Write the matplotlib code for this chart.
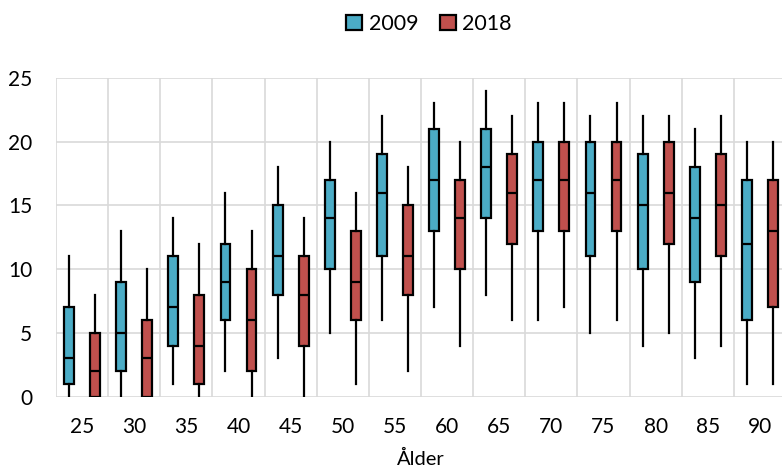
import numpy as np
import matplotlib.pyplot as plt
from matplotlib.patches import Patch

plt.rcParams['font.family'] = ['Lato', 'DejaVu Sans']

# age groups
ages = [25, 30, 35, 40, 45, 50, 55, 60, 65, 70, 75, 80, 85, 90]

# 2009: whisker low, Q1, median, Q3, whisker high
low_2009 = [0, 0, 1, 2, 3, 5, 6, 7, 8, 6, 5, 4, 3, 1]
q1_2009 = [1, 2, 4, 6, 8, 10, 11, 13, 14, 13, 11, 10, 9, 6]
med_2009 = [3, 5, 7, 9, 11, 14, 16, 17, 18, 17, 16, 15, 14, 12]
q3_2009 = [7, 9, 11, 12, 15, 17, 19, 21, 21, 20, 20, 19, 18, 17]
high_2009 = [11, 13, 14, 16, 18, 20, 22, 23, 24, 23, 22, 22, 21, 20]

# 2018
low_2018 = [0, 0, 0, 0, 0, 1, 2, 4, 6, 7, 6, 5, 4, 1]
q1_2018 = [0, 0, 1, 2, 4, 6, 8, 10, 12, 13, 13, 12, 11, 7]
med_2018 = [2, 3, 4, 6, 8, 9, 11, 14, 16, 17, 17, 16, 15, 13]
q3_2018 = [5, 6, 8, 10, 11, 13, 15, 17, 19, 20, 20, 20, 19, 17]
high_2018 = [8, 10, 12, 13, 14, 16, 18, 20, 22, 23, 23, 22, 22, 20]

series = [
    ('2009', '#4BACC6', low_2009, q1_2009, med_2009, q3_2009, high_2009, -0.25),
    ('2018', '#C0504D', low_2018, q1_2018, med_2018, q3_2018, high_2018, 0.25),
]

fig = plt.figure(figsize=(7.82, 4.73), dpi=100)
ax = fig.add_axes([56 / 782, 76.5 / 473, 730 / 782, 318.5 / 473])

x = np.arange(len(ages))
handles = []
for name, color, lo, q1, med, q3, hi, off in series:
    stats = [dict(whislo=a, q1=b, med=c, q3=d, whishi=e, fliers=[])
             for a, b, c, d, e in zip(lo, q1, med, q3, hi)]
    ax.bxp(stats, positions=x + off, widths=0.19, patch_artist=True,
           showcaps=False, showfliers=False, manage_ticks=False,
           boxprops=dict(facecolor=color, edgecolor='black', linewidth=1.6),
           medianprops=dict(color='black', linewidth=1.6),
           whiskerprops=dict(color='black', linewidth=1.6), zorder=3)
    handles.append(Patch(facecolor=color, edgecolor='black', linewidth=1.6, label=name))

ax.set_xlim(-0.5, len(ages) - 0.5)
ax.set_ylim(0, 25)
ax.set_yticks([0, 5, 10, 15, 20, 25])
ax.set_xticks(x)
ax.set_xticklabels([str(a) for a in ages])
ax.set_xticks(np.arange(len(ages) + 1) - 0.5, minor=True)
ax.tick_params(axis='both', which='both', length=0, labelsize=15)
ax.tick_params(axis='y', pad=17)
ax.tick_params(axis='x', pad=15)

ax.grid(axis='y', which='major', color='#D9D9D9', linewidth=1.2, zorder=0)
ax.grid(axis='x', which='minor', color='#D9D9D9', linewidth=1.2, zorder=0)
ax.set_axisbelow(True)
for s in ax.spines.values():
    s.set_visible(False)

ax.set_xlabel('Ålder', fontsize=14.5, labelpad=9)

fig.legend(handles=handles, loc='center', bbox_to_anchor=(429 / 782, 1 - 24 / 473),
           ncol=2, frameon=False, fontsize=15.5, handlelength=0.75, handleheight=0.75,
           handletextpad=0.3, columnspacing=1.0)

fig.savefig('out.png', dpi=100)
